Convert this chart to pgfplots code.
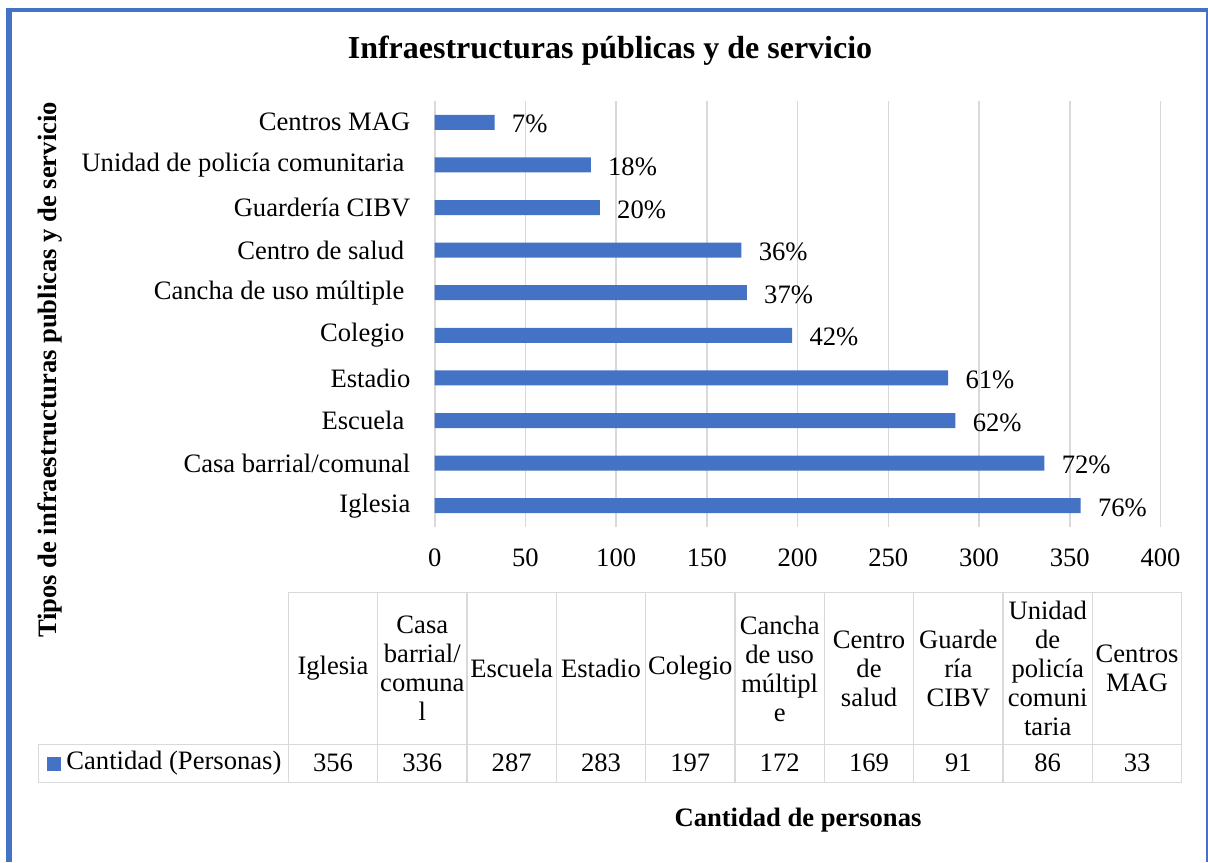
\documentclass[border=0pt]{standalone}
\usepackage{pgfplots}
\pgfplotsset{compat=1.18}
\usepackage{fontspec}
\setmainfont{Liberation Serif}
\definecolor{barblue}{HTML}{4472C4}
\definecolor{gridgray}{HTML}{D9D9D9}
\newcommand{\tsp}{\rule{3pt}{0pt}}

\begin{document}
\fontsize{13.3}{14.5}\selectfont
\begin{tikzpicture}
\path[use as bounding box] (0,0) rectangle (604pt,-431pt);
\begin{axis}[
    at={(217.35pt,-263.5pt)}, anchor=south west,
    scale only axis, width=362.9pt, height=213pt,
    xbar, bar width=7.5pt,
    xmin=0, xmax=400, ymin=-0.5, ymax=9.5,
    xtick={0,50,...,400},
    ytick={0,...,9},
    yticklabels={Iglesia, Casa barrial/comunal, Escuela\tsp, Estadio,
        Colegio\tsp, Cancha de uso múltiple\tsp,
        Centro de salud\tsp, Guardería CIBV,
        Unidad de policía comunitaria\tsp, Centros MAG},
    xmajorgrids, grid style={gridgray, line width=0.8pt},
    axis line style={draw=none}, major tick length=0pt, tick style={draw=none},
    tick label style={font=\fontsize{13.3}{14.5}\selectfont},
    /pgf/number format/assume math mode=true,
    xticklabel style={anchor=north, inner sep=0pt, yshift=-10.5pt},
    yticklabel style={anchor=east, inner sep=0pt, xshift=-12pt},
    point meta=explicit symbolic,
    nodes near coords,
    every node near coord/.append style={anchor=west, inner sep=0pt,
        xshift=8.5pt, yshift=-1pt, text=black},
]
\addplot[fill=barblue, draw=none] coordinates {
    (356,0) [76\%]
    (336,1) [72\%]
    (287,2) [62\%]
    (283,3) [61\%]
    (197,4) [42\%]
    (172,5) [37\%]
    (169,6) [36\%]
    (91,7) [20\%]
    (86,8) [18\%]
    (33,9) [7\%]
};
\end{axis}
\begin{scope}[x=0.5pt, y=-0.5pt]
% frame
\draw[barblue, line width=3pt] (9,8) -- (9,862);
\draw[barblue, line width=1.85pt] (6,9.85) -- (1208,9.85);
\draw[barblue, line width=0.6pt] (1207,8) -- (1207,862);
% titles
\node[font=\fontsize{16}{19}\selectfont\bfseries] at (610,51) {Infraestructuras públicas y de servicio};
\node[font=\bfseries] at (798,820) {Cantidad de personas};
\node[font=\bfseries, rotate=90] at (50,370) {Tipos de infraestructuras publicas y de servicio};
% data table
\draw[gridgray, line width=0.7pt] (288.3,592.7) -- (1181.7,592.7);
\draw[gridgray, line width=0.7pt] (38.3,744.3) -- (1181.7,744.3);
\draw[gridgray, line width=0.7pt] (38.3,782.5) -- (1181.7,782.5);
\draw[gridgray, line width=0.7pt] (38.3,744.3) -- (38.3,782.5);
\foreach \k in {0,...,10}
    \draw[gridgray, line width=0.7pt] ({288.3+\k*89.34},592.7) -- ({288.3+\k*89.34},782.5);
\foreach [count=\i from 0] \t in {Iglesia, {Casa\\barrial/\\comuna\\l}, Escuela, Estadio, Colegio,
        {Cancha\\de uso\\múltipl\\e}, {Centro\\de\\salud}, {Guarde\\ría\\CIBV},
        {Unidad\\de\\policía\\comuni\\taria}, {Centros\\MAG}}
    \node[align=center, inner sep=0pt] at ({288.3+(\i+0.5)*89.34},668.5) {\t};
\foreach [count=\i from 0] \v in {356,336,287,283,197,172,169,91,86,33}
    \node at ({288.3+(\i+0.5)*89.34},763) {\v};
\fill[barblue] (47,757) rectangle (61,771);
\node[anchor=west, inner sep=0pt] at (66,763) {Cantidad (Personas)};
\end{scope}
\end{tikzpicture}
\end{document}
